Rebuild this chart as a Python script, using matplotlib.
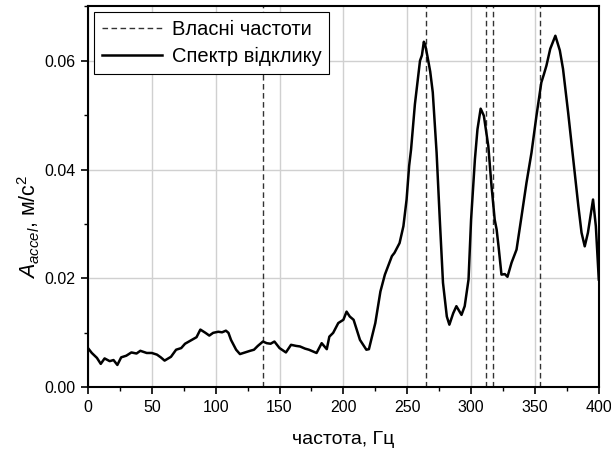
import matplotlib.pyplot as plt
from matplotlib.ticker import MultipleLocator

plt.rcParams['font.family'] = ['Liberation Sans', 'DejaVu Sans']
plt.rcParams['mathtext.fontset'] = 'custom'
plt.rcParams['mathtext.it'] = 'Liberation Sans:italic'
plt.rcParams['mathtext.rm'] = 'Liberation Sans'

# Власні частоти системи, Гц
natural_freqs = [137, 265, 312, 317, 354]

# Спектр відклику (частота, Гц / амплітуда прискорення, м/с^2)
freq = [0, 3, 7, 10, 13, 17, 20, 23, 26, 30, 34, 38, 41, 46, 50, 54, 57, 60,
        65, 69, 73, 76, 82, 85, 88, 92, 95, 98, 102, 105, 108, 110, 112, 116,
        119, 123, 127, 130, 133, 137, 140, 143, 146, 150, 155, 159, 163, 166,
        170, 173, 179, 183, 187, 189, 192, 196, 200, 202.5, 205, 208, 213,
        218, 220, 225, 229, 232.5, 238, 240, 244, 247, 249.5, 251.5, 253, 256,
        258.5, 260, 261.5, 263, 264, 266, 268, 270, 273, 275.5, 278, 281, 283,
        286, 288.5, 292.5, 295, 298, 300, 303, 305, 307.5, 310, 313.5, 316,
        318.5, 320, 321.5, 323.8, 326.4, 328.5, 331.7, 335.6, 339.5, 343.4,
        347.3, 351.2, 355, 357, 359, 362, 366, 369.5, 372, 376, 380, 384,
        386.5, 389, 391.5, 395.5, 397.7, 400]
amp = [0.0072, 0.0063, 0.0054, 0.0043, 0.0053, 0.0048, 0.0050, 0.0041, 0.0055,
       0.0058, 0.0064, 0.0062, 0.0067, 0.0063, 0.0063, 0.0060, 0.0055, 0.0049,
       0.0056, 0.0069, 0.0072, 0.0080, 0.0088, 0.0092, 0.0106, 0.0100, 0.0095,
       0.0100, 0.0102, 0.0101, 0.0104, 0.0100, 0.0087, 0.0069, 0.0061, 0.0064,
       0.0067, 0.0069, 0.0076, 0.0084, 0.0081, 0.0080, 0.0084, 0.0072, 0.0064,
       0.0078, 0.0076, 0.0075, 0.0071, 0.0069, 0.0063, 0.0081, 0.0070, 0.0093,
       0.0100, 0.0118, 0.0124, 0.0139, 0.0130, 0.0124, 0.0087, 0.0069, 0.0070,
       0.0118, 0.0176, 0.0207, 0.0241, 0.0247, 0.0265, 0.0296, 0.0345, 0.0407,
       0.0437, 0.0520, 0.0570, 0.0600, 0.0610, 0.0635, 0.0630, 0.0606, 0.0580,
       0.0542, 0.0431, 0.0308, 0.0192, 0.0130, 0.0115, 0.0136, 0.0149, 0.0133,
       0.0149, 0.0198, 0.0308, 0.0419, 0.0474, 0.0512, 0.0499, 0.0443, 0.0370,
       0.0308, 0.0290, 0.0259, 0.0207, 0.0208, 0.0203, 0.0229, 0.0253, 0.0314,
       0.0376, 0.0431, 0.0499, 0.0560, 0.0575, 0.0591, 0.0622, 0.0646, 0.0619,
       0.0585, 0.0505, 0.0419, 0.0333, 0.0284, 0.0259, 0.0284, 0.0345, 0.0296,
       0.0198]

fig = plt.figure(figsize=(6.11, 4.54), dpi=100)
ax = fig.add_axes([0.144, 0.147, 0.836, 0.839])

for i, f0 in enumerate(natural_freqs):
    ax.axvline(f0, color='#333333', lw=1.0, ls=(0, (4, 2.5)),
               label='Власні частоти' if i == 0 else None, zorder=2)
ax.plot(freq, amp, color='black', lw=1.8, label='Спектр відклику', zorder=3)

ax.set_xlim(0, 400)
ax.set_ylim(0, 0.07)
ax.xaxis.set_major_locator(MultipleLocator(50))
ax.xaxis.set_minor_locator(MultipleLocator(25))
ax.yaxis.set_major_locator(MultipleLocator(0.02))
ax.yaxis.set_minor_locator(MultipleLocator(0.01))
ax.yaxis.set_major_formatter(plt.FormatStrFormatter('%.2f'))
ax.grid(True, which='major', color='#d0d0d0', lw=1.0, zorder=0)
ax.set_axisbelow(True)

ax.tick_params(which='major', direction='out', length=5, width=1.2,
               labelsize=11.5, colors='black', pad=4)
ax.tick_params(which='minor', direction='out', length=3, width=1.0)
for s in ax.spines.values():
    s.set_linewidth(1.5)

ax.set_xlabel('частота, Гц', fontsize=14, labelpad=12)
ax.set_ylabel(r'$A_{accel}$, м/с$^2$', fontsize=15.5)
ax.yaxis.set_label_coords(-0.09, 0.42)

leg = ax.legend(loc='upper left', fontsize=14.5, fancybox=False,
                edgecolor='black', framealpha=1, borderaxespad=0.3,
                handlelength=3.0, handletextpad=0.45, borderpad=0.4,
                labelspacing=0.35)
leg.get_frame().set_linewidth(0.8)

fig.savefig('out.png', dpi=100)
